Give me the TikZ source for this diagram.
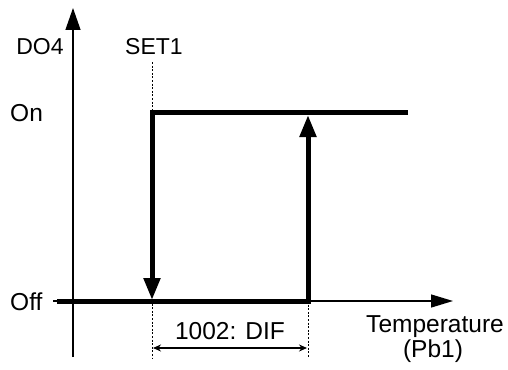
\documentclass[tikz,border=0pt]{standalone}
\usepackage{fontspec}
\setmainfont{Liberation Sans}
\usetikzlibrary{arrows.meta}

\begin{document}
\begin{tikzpicture}[x=1pt,y=-1pt,
  axis/.style={line width=1.3pt},
  relay/.style={line width=5pt,line join=miter},
  guide/.style={line width=0.9pt,dash pattern=on 2pt off 1.6pt},
  bigtip/.style={-{Triangle[length=22pt,width=16pt]}},
  lbl/.style={inner sep=0pt,font=\fontsize{24.5}{26}\selectfont},
  tag/.style={inner sep=0pt,font=\fontsize{23}{26}\selectfont}]
  \useasboundingbox (0,0) rectangle (508,369);
  % axes
  \coordinate (ybot) at (73,357);
  \coordinate (ytop) at (73,8);
  \coordinate (xleft) at (53,301);
  \coordinate (xright) at (453,301);
  \draw[axis,-{Triangle[length=22pt,width=15pt]}] (ybot) -- (ytop);
  \draw[axis,-{Triangle[length=22pt,width=13pt]}] (xleft) -- (xright);
  \node[tag,anchor=base] (do4) at (40,55) {DO4};
  \node[tag,anchor=base] (set1) at (154,55) {SET1};
  \node[lbl,anchor=base west] (on) at (10,121) {On};
  \node[lbl,anchor=base west] (off) at (10,310) {Off};
  \node[lbl,anchor=base] (temp) at (435,332) {Temperature};
  \node[lbl,anchor=base] (pb1) at (433,357) {(Pb1)};
  % relay output
  \coordinate (offL) at (57,301);
  \coordinate (difOff) at (308,301);
  \coordinate (difOn) at (308,115);
  \coordinate (onR) at (408,112.5);
  \coordinate (setOn) at (152,112.5);
  \coordinate (setOff) at (152,300);
  \draw[relay,bigtip] (offL) -- (difOff) -- (difOn);
  \draw[relay,bigtip] (onR) -- (setOn) -- (setOff);
  % set point and differential
  \coordinate (setTop) at (152,62);
  \coordinate (setBot) at (152,358);
  \coordinate (difBot) at (308,358);
  \draw[guide] (setTop) -- (setOn);
  \draw[guide] (setOff) -- (setBot);
  \draw[guide] (difOff) -- (difBot);
  \draw[line width=1.2pt,{Stealth[length=8pt,width=7pt]}-{Stealth[length=8pt,width=7pt]}]
    (153,348) -- (307,348) node[lbl,midway,anchor=base,yshift=9pt] (dif) {1002: DIF};
\end{tikzpicture}
\end{document}
